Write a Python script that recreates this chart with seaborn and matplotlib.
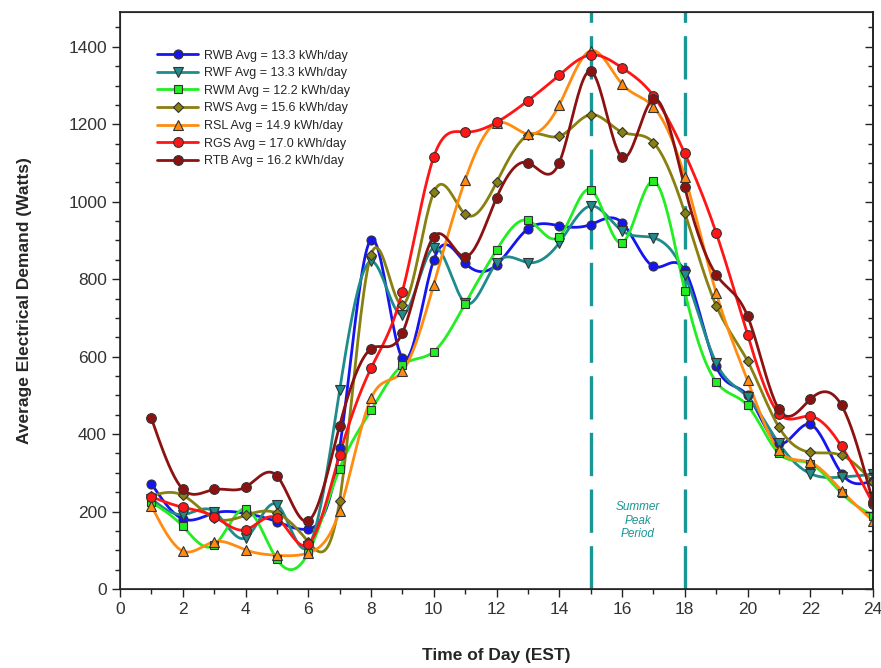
import numpy as np
import pandas as pd
import seaborn as sns
import matplotlib.pyplot as plt
from matplotlib.lines import Line2D
from matplotlib.ticker import MultipleLocator

# Hourly average demand (W), hours 1..24
hours = list(range(1, 25))
rwb = [272, 181, 196, 195, 174, 155, 363, 902, 596, 850, 842, 837,
       930, 938, 941, 946, 833, 823, 575, 500, 376, 425, 298, 280]
rwf = [233, 192, 200, 132, 218, 110, 513, 846, 708, 881, 739, 842,
       843, 894, 989, 925, 907, 812, 584, 496, 376, 298, 289, 296]
rwm = [224, 162, 113, 207, 77, 93, 311, 461, 578, 613, 737, 875,
       952, 910, 1031, 894, 1053, 770, 535, 474, 350, 324, 247, 189]
rws = [241, 242, 183, 190, 196, 122, 228, 863, 734, 1024, 968, 1050,
       1172, 1169, 1225, 1180, 1153, 972, 732, 589, 418, 353, 345, 276]
rsl = [215, 98, 122, 101, 87, 93, 202, 492, 562, 786, 1056, 1203,
       1175, 1250, 1390, 1304, 1245, 1065, 765, 539, 358, 327, 254, 176]
rgs = [238, 211, 187, 153, 183, 116, 347, 570, 768, 1116, 1180, 1205,
       1261, 1327, 1379, 1346, 1274, 1125, 920, 657, 453, 446, 368, 220]
rtb = [441, 258, 257, 263, 292, 176, 422, 620, 661, 910, 858, 1010,
       1101, 1101, 1337, 1115, 1265, 1037, 812, 705, 464, 490, 474, 224]

labels = ['RWB Avg = 13.3 kWh/day', 'RWF Avg = 13.3 kWh/day',
          'RWM Avg = 12.2 kWh/day', 'RWS Avg = 15.6 kWh/day',
          'RSL Avg = 14.9 kWh/day', 'RGS Avg = 17.0 kWh/day',
          'RTB Avg = 16.2 kWh/day']
series = [rwb, rwf, rwm, rws, rsl, rgs, rtb]
colors = ['#1515f0', '#1f8c8c', '#22ee22', '#888010', '#ff8c10', '#ff1515', '#8c1212']
markers = ['o', 'v', 's', 'D', '^', 'o', 'o']
msizes = [6.5, 7, 6, 5.5, 6.5, 7, 7]

peak_start, peak_end = 15, 18


def spline(x, y, n=500):
    # natural cubic spline, only used to draw the smooth curve through the points
    x = np.asarray(x, float)
    y = np.asarray(y, float)
    h = np.diff(x)
    k = len(x)
    A = np.zeros((k, k))
    b = np.zeros(k)
    A[0, 0] = A[-1, -1] = 1
    for i in range(1, k - 1):
        A[i, i - 1] = h[i - 1]
        A[i, i] = 2 * (h[i - 1] + h[i])
        A[i, i + 1] = h[i]
        b[i] = 6 * ((y[i + 1] - y[i]) / h[i] - (y[i] - y[i - 1]) / h[i - 1])
    M = np.linalg.solve(A, b)
    xs = np.linspace(x[0], x[-1], n)
    idx = np.clip(np.searchsorted(x, xs) - 1, 0, k - 2)
    x0, x1 = x[idx], x[idx + 1]
    hh = x1 - x0
    t0 = x1 - xs
    t1 = xs - x0
    ys = ((M[idx] * t0 ** 3 + M[idx + 1] * t1 ** 3) / (6 * hh)
          + (y[idx] / hh - M[idx] * hh / 6) * t0
          + (y[idx + 1] / hh - M[idx + 1] * hh / 6) * t1)
    return xs, ys


sns.set_style('ticks')
plt.rcParams['font.family'] = ['Liberation Sans', 'DejaVu Sans']

fig = plt.figure(figsize=(8.81, 6.68), dpi=100)
ax = fig.add_axes([120 / 881, 1 - 589 / 668, 753 / 881, 577 / 668])

# smooth curves
rows = []
for lab, vals in zip(labels, series):
    xs, ys = spline(hours, vals)
    rows.append(pd.DataFrame({'hour': xs, 'watts': ys, 'site': lab}))
curves = pd.concat(rows, ignore_index=True)
sns.lineplot(data=curves, x='hour', y='watts', hue='site', hue_order=labels,
             palette=colors, linewidth=2.0, legend=False, ax=ax, sort=False,
             estimator=None)

# markers at the hourly points
handles = []
for lab, vals, c, m, ms in zip(labels, series, colors, markers, msizes):
    ax.plot(hours, vals, linestyle='none', marker=m, markersize=ms,
            markerfacecolor=c, markeredgecolor='#333333', markeredgewidth=0.8,
            zorder=3)
    handles.append(Line2D([], [], color=c, linewidth=2.0, marker=m, markersize=ms,
                          markerfacecolor=c, markeredgecolor='#333333',
                          markeredgewidth=0.8))

# summer peak period
for xv in (peak_start, peak_end):
    ax.axvline(xv, color='#1a9696', linewidth=2.4, linestyle=(0, (13, 4)), zorder=1)
ax.text((peak_start + peak_end) / 2, 176, 'Summer\nPeak\nPeriod', color='#1a9696',
        fontsize=8.5, style='italic', ha='center', va='center', linespacing=1.15)

ax.set_xlim(0, 24)
ax.set_ylim(0, 1490)
ax.xaxis.set_major_locator(MultipleLocator(2))
ax.xaxis.set_minor_locator(MultipleLocator(1))
ax.yaxis.set_major_locator(MultipleLocator(200))
ax.yaxis.set_minor_locator(MultipleLocator(50))
ax.tick_params(which='both', direction='out', colors='#222222', labelcolor='#333333',
               labelsize=12.5, width=1.0)
ax.tick_params(which='major', length=6)
ax.tick_params(which='minor', length=3.5)
for side in ['left', 'right', 'top', 'bottom']:
    ax.spines[side].set_color('#222222')
    ax.spines[side].set_linewidth(1.2)

# inward ticks on the right-hand frame
axr = ax.twinx()
axr.set_ylim(ax.get_ylim())
axr.yaxis.set_major_locator(MultipleLocator(200))
axr.yaxis.set_minor_locator(MultipleLocator(50))
axr.tick_params(which='both', direction='in', colors='#222222', labelright=False, width=1.0)
axr.tick_params(which='major', length=6)
axr.tick_params(which='minor', length=3.5)
axr.spines['right'].set_linewidth(1.2)
axr.spines['right'].set_color('#222222')

ax.set_xlabel('Time of Day (EST)', fontsize=12.5, fontweight='bold', labelpad=22)
ax.set_ylabel('Average Electrical Demand (Watts)', fontsize=12.5, fontweight='bold',
              labelpad=26)

ax.legend(handles, labels, loc='upper left', bbox_to_anchor=(0.049, 0.935),
          frameon=False, fontsize=9, handlelength=3.3, handletextpad=0.5,
          labelspacing=0.45, borderpad=0, borderaxespad=0)

fig.savefig('out.png', dpi=100)
